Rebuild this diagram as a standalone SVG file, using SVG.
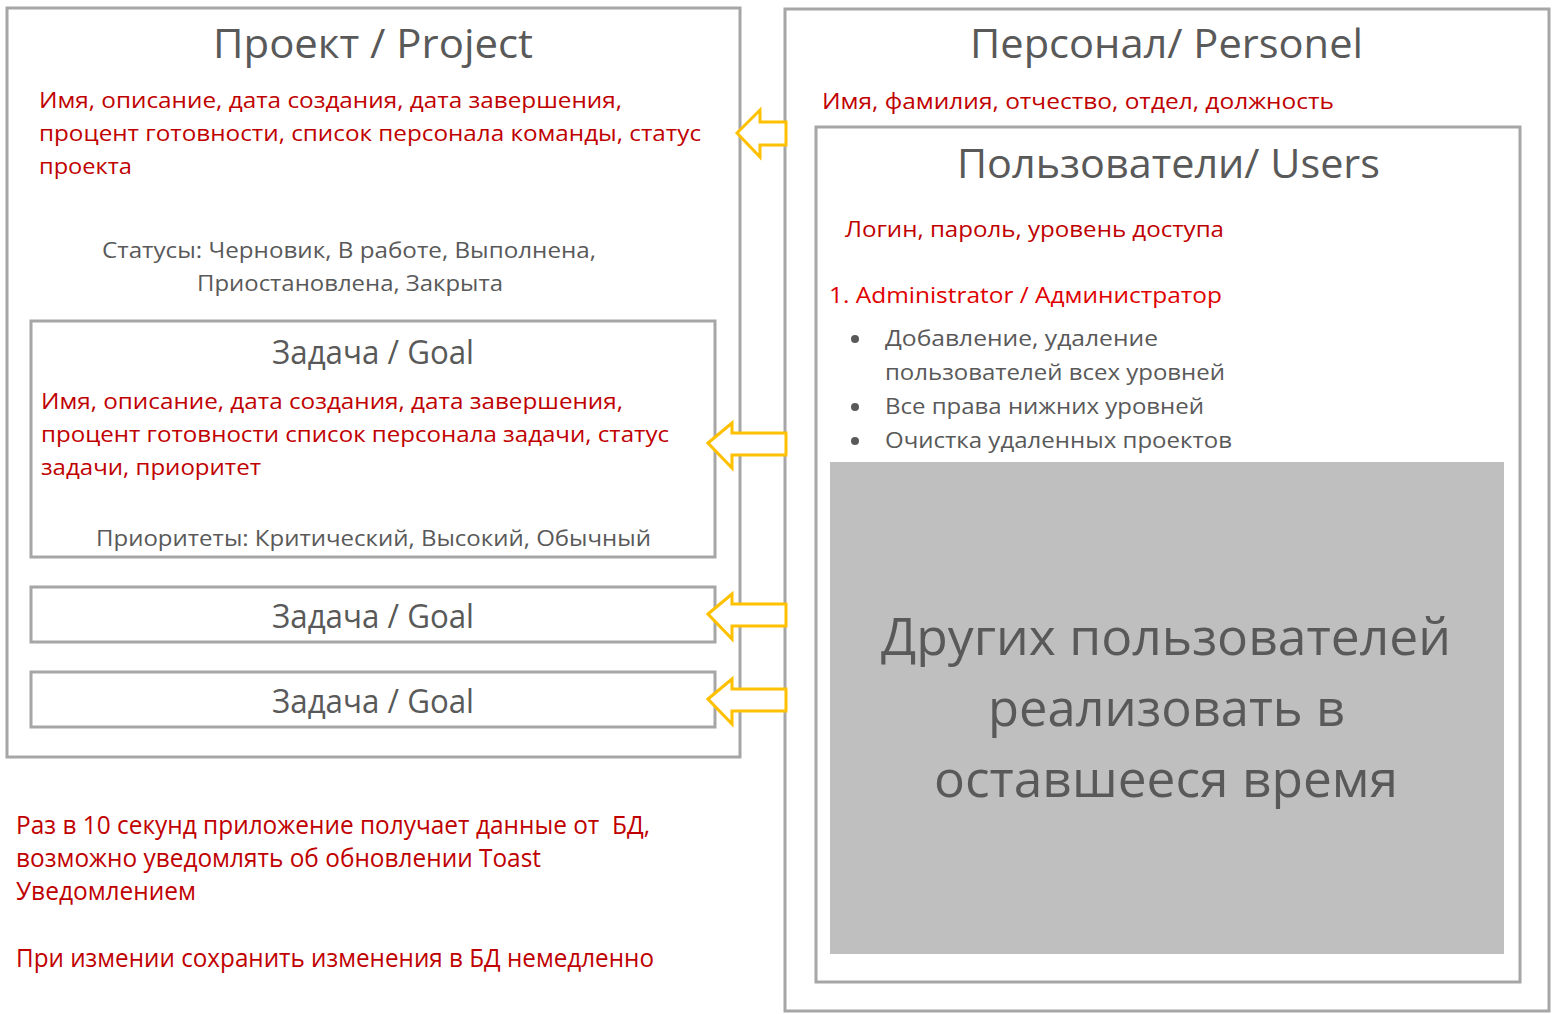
<svg xmlns="http://www.w3.org/2000/svg" width="1552" height="1014" viewBox="0 0 1552 1014">
<style>
.box{fill:#fff;stroke:#a6a6a6;stroke-width:3}
.t{font-family:"Open Sans","Noto Sans","DejaVu Sans",sans-serif}
.title{font-size:40px;fill:#595959}
.sub{font-size:32px;fill:#595959}
.red{font-size:22.5px;fill:#c00000}
.bred{font-size:22.5px;fill:#e00000}
.gray{font-size:22px;fill:#595959}
.big{font-size:52px;fill:#595959}
.note{font-size:25px;fill:#c00000}
.arrow{fill:#fff;stroke:#ffc000;stroke-width:3;stroke-linejoin:miter}
</style>
<rect width="1552" height="1014" fill="#fff"/>
<g id="project">
<rect class="box" x="7" y="8" width="733" height="749"/>
<text class="t title" x="213" y="58" textLength="320" lengthAdjust="spacingAndGlyphs">Проект / Project</text>
<text class="t red" x="39" y="108" textLength="583" lengthAdjust="spacingAndGlyphs">Имя, описание, дата создания, дата завершения,</text>
<text class="t red" x="39" y="141" textLength="662" lengthAdjust="spacingAndGlyphs">процент готовности, список персонала команды, статус</text>
<text class="t red" x="39" y="174" textLength="93" lengthAdjust="spacingAndGlyphs">проекта</text>
<text class="t gray" x="102" y="258" textLength="494" lengthAdjust="spacingAndGlyphs">Статусы: Черновик, В работе, Выполнена,</text>
<text class="t gray" x="197" y="291" textLength="306" lengthAdjust="spacingAndGlyphs">Приостановлена, Закрыта</text>
</g>
<g id="goal1">
<rect class="box" x="31" y="321" width="684" height="236"/>
<text class="t sub" x="272" y="364" textLength="202" lengthAdjust="spacingAndGlyphs">Задача / Goal</text>
<text class="t red" x="41" y="409" textLength="582" lengthAdjust="spacingAndGlyphs">Имя, описание, дата создания, дата завершения,</text>
<text class="t red" x="41" y="442" textLength="628" lengthAdjust="spacingAndGlyphs">процент готовности список персонала задачи, статус</text>
<text class="t red" x="41" y="475" textLength="220" lengthAdjust="spacingAndGlyphs">задачи, приоритет</text>
<text class="t gray" x="96" y="546" textLength="555" lengthAdjust="spacingAndGlyphs">Приоритеты: Критический, Высокий, Обычный</text>
</g>
<g id="goal2">
<rect class="box" x="31" y="587" width="684" height="55"/>
<text class="t sub" x="272" y="628" textLength="202" lengthAdjust="spacingAndGlyphs">Задача / Goal</text>
</g>
<g id="goal3">
<rect class="box" x="31" y="672" width="684" height="55"/>
<text class="t sub" x="272" y="713" textLength="202" lengthAdjust="spacingAndGlyphs">Задача / Goal</text>
</g>
<g id="personel">
<rect class="box" x="785" y="9" width="764" height="1002"/>
<text class="t title" x="970" y="58" textLength="393" lengthAdjust="spacingAndGlyphs">Персонал/ Personel</text>
<text class="t red" x="822" y="109" textLength="512" lengthAdjust="spacingAndGlyphs">Имя, фамилия, отчество, отдел, должность</text>
</g>
<g id="users">
<rect class="box" x="816" y="127" width="704" height="855"/>
<text class="t title" x="957" y="178" textLength="423" lengthAdjust="spacingAndGlyphs">Пользователи/ Users</text>
<text class="t red" x="845" y="237" textLength="379" lengthAdjust="spacingAndGlyphs">Логин, пароль, уровень доступа</text>
<text class="t bred" x="829" y="303" textLength="393" lengthAdjust="spacingAndGlyphs">1. Administrator / Администратор</text>
<g fill="#595959">
<circle cx="855" cy="339" r="4"/>
<circle cx="855" cy="407" r="4"/>
<circle cx="855" cy="441" r="4"/>
</g>
<text class="t gray" x="885" y="346" textLength="273" lengthAdjust="spacingAndGlyphs">Добавление, удаление</text>
<text class="t gray" x="885" y="380" textLength="340" lengthAdjust="spacingAndGlyphs">пользователей всех уровней</text>
<text class="t gray" x="885" y="414" textLength="319" lengthAdjust="spacingAndGlyphs">Все права нижних уровней</text>
<text class="t gray" x="885" y="448" textLength="347" lengthAdjust="spacingAndGlyphs">Очистка удаленных проектов</text>
</g>
<g id="others">
<rect x="830" y="462" width="674" height="492" fill="#bfbfbf"/>
<text class="t big" x="881" y="655" textLength="570" lengthAdjust="spacingAndGlyphs">Других пользователей</text>
<text class="t big" x="988" y="726" textLength="357" lengthAdjust="spacingAndGlyphs">реализовать в</text>
<text class="t big" x="934" y="797" textLength="464" lengthAdjust="spacingAndGlyphs">оставшееся время</text>
</g>
<g id="notes">
<text class="t note" x="16" y="834" textLength="634" lengthAdjust="spacingAndGlyphs" xml:space="preserve">Раз в 10 секунд приложение получает данные от  БД,</text>
<text class="t note" x="16" y="867" textLength="525" lengthAdjust="spacingAndGlyphs">возможно уведомлять об обновлении Toast</text>
<text class="t note" x="16" y="900" textLength="180" lengthAdjust="spacingAndGlyphs">Уведомлением</text>
<text class="t note" x="16" y="967" textLength="638" lengthAdjust="spacingAndGlyphs">При измении сохранить изменения в БД немедленно</text>
</g>
<g id="connectors">
<polygon class="arrow" points="737,133 760,110 760,122 786,122 786,145 760,145 760,157"/>
<polygon class="arrow" points="708,443 732,423 732,433 786,433 786,455 732,455 732,468"/>
<polygon class="arrow" points="708,614 732,594 732,604 786,604 786,626 732,626 732,639"/>
<polygon class="arrow" points="708,699 732,679 732,689 786,689 786,711 732,711 732,724"/>
</g>
</svg>
